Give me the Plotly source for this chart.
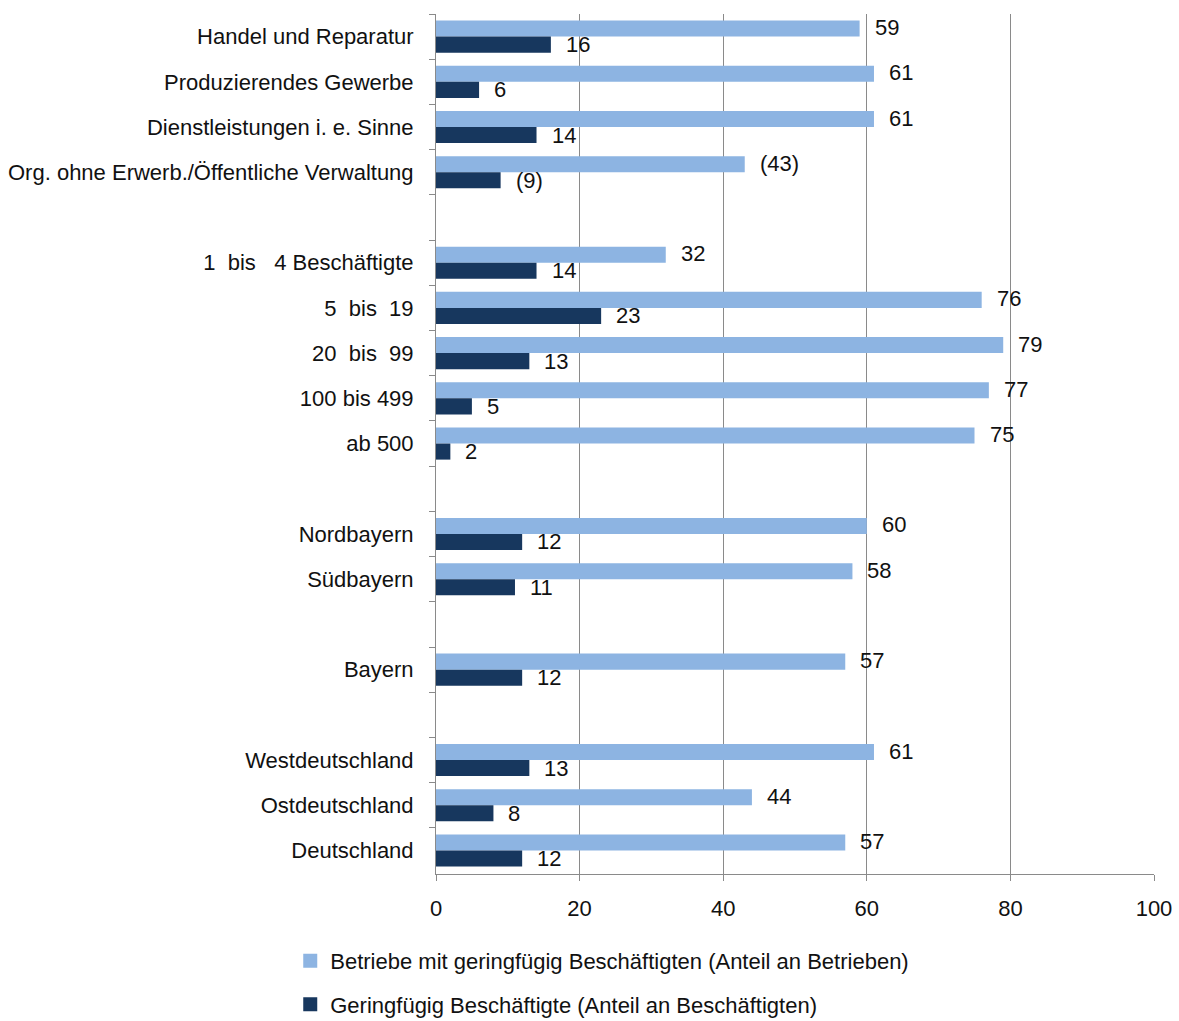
import plotly.graph_objects as go

# Row labels, top to bottom; blank rows separate the groups
categories = [
    "Handel und Reparatur",
    "Produzierendes Gewerbe",
    "Dienstleistungen i. e. Sinne",
    "Org. ohne Erwerb./Öffentliche Verwaltung",
    " ",
    "1  bis   4 Beschäftigte",
    "5  bis  19",
    "20  bis  99",
    "100 bis 499",
    "ab 500",
    "  ",
    "Nordbayern",
    "Südbayern",
    "   ",
    "Bayern",
    "    ",
    "Westdeutschland",
    "Ostdeutschland",
    "Deutschland",
]

betriebe = [59, 61, 61, 43, None, 32, 76, 79, 77, 75, None, 60, 58, None, 57, None, 61, 44, 57]
beschaeftigte = [16, 6, 14, 9, None, 14, 23, 13, 5, 2, None, 12, 11, None, 12, None, 13, 8, 12]

# Values shown in brackets (small sample)
bracketed = {"Org. ohne Erwerb./Öffentliche Verwaltung"}

name_betriebe = "Betriebe mit geringfügig Beschäftigten (Anteil an Betrieben)"
name_beschaeftigte = "Geringfügig Beschäftigte (Anteil an Beschäftigten)"

x_ticks = [0, 20, 40, 60, 80, 100]

FONT = "Liberation Sans, Arial, sans-serif"
FS = 22
LIGHT = "#8DB4E2"
DARK = "#17375E"
GRID = "#8a8a8a"
TXT = "#111111"

fig = go.Figure()
fig.add_trace(go.Bar(
    y=categories, x=betriebe, orientation="h", name=name_betriebe,
    marker=dict(color=LIGHT, line=dict(width=0)), showlegend=False,
))
fig.add_trace(go.Bar(
    y=categories, x=beschaeftigte, orientation="h", name=name_beschaeftigte,
    marker=dict(color=DARK, line=dict(width=0)), showlegend=False,
))

# Legend entries with larger square swatches
for name, color, grp in ((name_betriebe, LIGHT, "a"), (name_beschaeftigte, DARK, "b")):
    fig.add_trace(go.Scatter(
        x=[None], y=[None], mode="markers", name=name, legendgroup=grp,
        marker=dict(symbol="square", size=14, color=color),
    ))

annotations = []
for cat, v1, v2 in zip(categories, betriebe, beschaeftigte):
    if v1 is None:
        continue
    for v, shift in ((v1, 9), (v2, -8)):
        txt = f"({v})" if cat in bracketed else str(v)
        annotations.append(dict(
            x=v, y=cat, xref="x", yref="y", text=txt, showarrow=False,
            xanchor="left", yanchor="middle", xshift=13, yshift=shift,
            font=dict(family=FONT, size=FS, color=TXT),
        ))

fig.update_layout(
    width=1179, height=1021,
    margin=dict(l=436, r=25, t=14, b=147, autoexpand=False),
    paper_bgcolor="white", plot_bgcolor="white",
    barmode="group", bargap=0.29, bargroupgap=0,
    font=dict(family=FONT, size=FS, color=TXT),
    annotations=annotations,
    legend=dict(
        orientation="v", x=-0.203, xanchor="left", y=-0.0767, yanchor="top",
        traceorder="grouped", tracegroupgap=12,
        font=dict(family=FONT, size=FS, color=TXT),
        itemwidth=30,
    ),
    xaxis=dict(
        range=[0, 100], tickvals=x_ticks, ticktext=[str(t) for t in x_ticks],
        showgrid=True, gridcolor=GRID, gridwidth=1,
        showline=True, linecolor=GRID, linewidth=1,
        ticks="outside", ticklen=6, tickcolor=GRID,
        ticklabelstandoff=9, zeroline=False, fixedrange=True, automargin=False,
    ),
    yaxis=dict(
        type="category", categoryorder="array", categoryarray=categories,
        autorange="reversed",
        showline=True, linecolor=GRID, linewidth=1,
        ticks="outside", ticklen=6, tickcolor=GRID, tickson="boundaries",
        ticklabelstandoff=17, showgrid=False, fixedrange=True, automargin=False,
    ),
)

fig.write_html("out.html")
